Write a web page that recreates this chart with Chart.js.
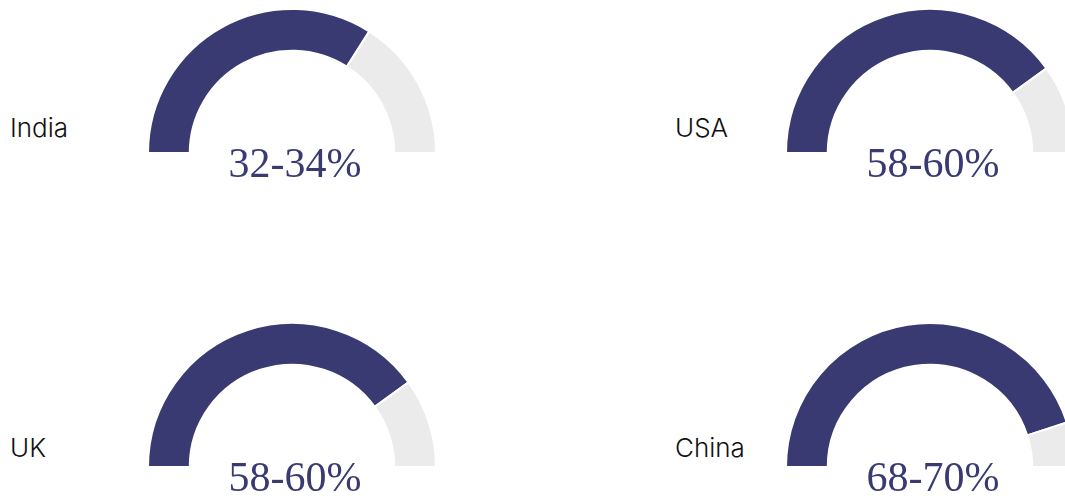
<!DOCTYPE html>
<html lang="en">
<head>
  <meta charset="UTF-8">
  <title>Share by country</title>
  <script src="https://cdn.jsdelivr.net/npm/chart.js"></script>
  <style>
    html, body {
      margin: 0;
      padding: 0;
      background: #fff;
    }
    body {
      position: relative;
      width: 1065px;
      height: 499px;
      overflow: hidden;
    }
    .country {
      position: absolute;
      font-family: Inter, "Noto Sans", sans-serif;
      font-weight: 300;
      font-size: 26px;
      line-height: 26px;
      color: #111;
      white-space: nowrap;
    }
    .gauge {
      position: absolute;
      width: 290px;
      height: 146px;
    }
    .share {
      position: absolute;
      width: 290px;
      text-align: center;
      font-family: "Liberation Serif", "DejaVu Serif", serif;
      font-size: 42px;
      line-height: 42px;
      color: #393a72;
      white-space: nowrap;
    }
  </style>
</head>
<body>

  <div id="board"></div>

  <script>
    // data
    const countries = ['India', 'USA', 'UK', 'China'];
    const shareLabels = ['32-34%', '58-60%', '58-60%', '68-70%'];
    const gaugeFill = [68, 80, 80, 90];   // filled part of each half ring, out of 100

    // grid placement: gauge centre x, gauge base y, label x / y
    const cells = [
      { cx: 292, base: 152, labelX: 10, labelY: 115 },
      { cx: 930, base: 152, labelX: 675, labelY: 115 },
      { cx: 292, base: 466, labelX: 10, labelY: 435 },
      { cx: 930, base: 466, labelX: 675, labelY: 435 }
    ];

    const navy = '#393a72';
    const grey = '#ebebeb';
    const board = document.getElementById('board');

    countries.forEach((name, i) => {
      const c = cells[i];

      const label = document.createElement('div');
      label.className = 'country';
      label.textContent = name;
      label.style.left = c.labelX + 'px';
      label.style.top = c.labelY + 'px';
      board.appendChild(label);

      const box = document.createElement('div');
      box.className = 'gauge';
      box.style.left = (c.cx - 145) + 'px';
      box.style.top = (c.base - 144) + 'px';
      const canvas = document.createElement('canvas');
      box.appendChild(canvas);
      board.appendChild(box);

      const share = document.createElement('div');
      share.className = 'share';
      share.textContent = shareLabels[i];
      share.style.left = (c.cx - 145 + 3) + 'px';
      share.style.top = (c.base - 10) + 'px';
      board.appendChild(share);

      new Chart(canvas, {
        type: 'doughnut',
        data: {
          labels: [name, ''],
          datasets: [{
            data: [gaugeFill[i], 100 - gaugeFill[i]],
            backgroundColor: [navy, grey],
            borderColor: '#fff',
            borderWidth: 2
          }]
        },
        options: {
          responsive: true,
          maintainAspectRatio: false,
          animation: false,
          rotation: -90,
          circumference: 180,
          cutout: '71%',
          plugins: {
            legend: { display: false },
            tooltip: { enabled: false }
          }
        }
      });
    });
  </script>

</body>
</html>
